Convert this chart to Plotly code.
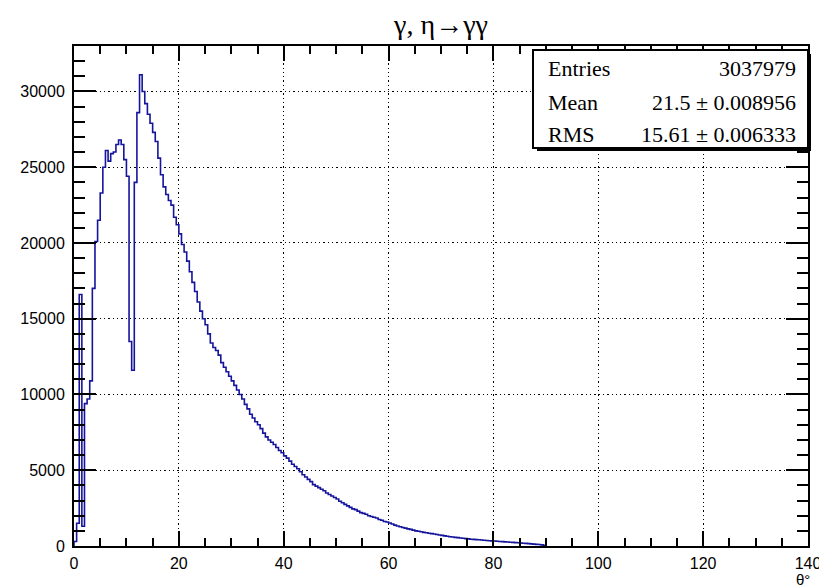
import plotly.graph_objects as go

# ---------------- data ----------------
bin_width = 0.5          # degrees
x_start = 0.0
counts = [
    300, 1500, 16600, 1300, 9400, 9700, 10900, 17000, 20100, 21500,
    23300, 25000, 26100, 25400, 25900, 26000, 26500, 26800, 26500, 25500,
    24400, 13500, 11600, 24000, 28600, 31100, 30000, 29200, 28500, 27900,
    27300, 26700, 25600, 24500, 23700, 23200, 22800, 22500, 21700, 21200,
    20600, 19900, 19400, 18800, 18100, 17400, 16800, 16100, 15500, 15000,
    14600, 14000, 13400, 13100, 12900, 12600, 12100, 11800, 11500, 11200,
    10900, 10600, 10300, 10000, 9700, 9350, 9050, 8700, 8450, 8200,
    8000, 7750, 7450, 7200, 7000, 6850, 6700, 6500, 6300, 6150,
    5950, 5800, 5600, 5400, 5250, 5100, 4900, 4700, 4550, 4400,
    4250, 4050, 3950, 3850, 3750, 3650, 3500, 3400, 3300, 3200,
    3100, 2950, 2850, 2750, 2650, 2550, 2450, 2400, 2300, 2200,
    2150, 2100, 2000, 1950, 1900, 1850, 1750, 1700, 1620, 1580,
    1520, 1450, 1380, 1320, 1270, 1220, 1180, 1130, 1100, 1050,
    1000, 970, 940, 900, 870, 840, 820, 790, 760, 730,
    700, 670, 640, 610, 590, 570, 550, 530, 510, 490,
    470, 450, 440, 420, 410, 395, 380, 365, 350, 340,
    330, 310, 300, 290, 270, 260, 250, 240, 220, 210,
    195, 185, 170, 155, 140, 125, 110, 95, 75, 50,
]
x_ticks = [0, 20, 40, 60, 80, 100, 120, 140]
y_ticks = [0, 5000, 10000, 15000, 20000, 25000, 30000]
title_text = "γ, η→γγ"
x_title = "θ°"
stat_labels = ["Entries", "Mean", "RMS"]
stat_values = ["3037979", "21.5 ± 0.008956", "15.61 ± 0.006333"]

# ---------------- build step outline ----------------
edges = [x_start + i * bin_width for i in range(len(counts) + 1)]
xs = [edges[0]] + edges[:-1] + [edges[-1], edges[-1]]
ys = [0] + counts + [counts[-1], 0]

fig = go.Figure()
fig.add_trace(go.Scatter(
    x=xs, y=ys, mode="lines",
    line=dict(shape="hv", color="#14149c", width=1.6),
    hoverinfo="skip", showlegend=False,
))

# the page body has an 8px margin, so the figure is drawn at (8, 8)
OFF = 8
W, H = 827 - OFF, 587 - OFF

axis_font = dict(family="Liberation Sans, Arial, sans-serif", size=16, color="black")
common = dict(
    automargin=False,
    showline=True, linecolor="black", linewidth=2, mirror="allticks",
    ticks="inside", tickcolor="black", tickwidth=2,
    showgrid=True, gridcolor="black", gridwidth=1.3, griddash="1.3px,3px",
    zeroline=False, tickfont=axis_font,
)

fig.update_layout(
    width=W, height=H,
    margin=dict(l=74 - OFF, r=19, t=46 - OFF, b=41, autoexpand=False),
    paper_bgcolor="white", plot_bgcolor="white",
    title=dict(text=title_text, x=0.5, xref="paper", y=1 - (24 - OFF) / H, yref="container",
               xanchor="center", yanchor="middle",
               font=dict(family="Liberation Serif, Times New Roman, serif", size=28, color="black")),
    xaxis=dict(range=[0, 140], tickvals=x_ticks, ticktext=[str(v) for v in x_ticks],
               ticklen=15, ticklabelstandoff=2,
               minor=dict(dtick=5, ticks="inside", ticklen=8, tickcolor="black", tickwidth=2,
                          showgrid=False),
               **common),
    yaxis=dict(range=[0, 33000], tickvals=y_ticks, ticktext=[str(v) for v in y_ticks],
               ticklen=22, ticklabelstandoff=4,
               minor=dict(dtick=1000, ticks="inside", ticklen=11, tickcolor="black", tickwidth=2,
                          showgrid=False),
               **common),
)

# ---------------- pixel helpers (screen pixels -> paper coords) ----------------
px_l, px_t = 74, 46
pw = 827 - 19 - px_l
ph = 546 - px_t


def xp(px):
    return (px - px_l) / pw


def yp(py):
    return (px_t + ph - py) / ph


# x-axis title at bottom right
fig.add_annotation(text=x_title, xref="paper", yref="paper", x=xp(812), y=yp(579),
                   xanchor="right", yanchor="middle", showarrow=False,
                   font=dict(family="Liberation Sans, Arial, sans-serif", size=15, color="black"))

# ---------------- stats box ----------------
fig.add_shape(type="rect", xref="paper", yref="paper",
              x0=xp(537), x1=xp(811), y0=yp(151), y1=yp(54),
              fillcolor="black", line=dict(width=0), layer="above")
fig.add_shape(type="rect", xref="paper", yref="paper",
              x0=xp(533), x1=xp(808), y0=yp(148), y1=yp(50),
              fillcolor="white", line=dict(color="black", width=2), layer="above")

row_y = [68, 102, 134]
stat_font = dict(family="Liberation Serif, Times New Roman, serif", size=22, color="black")
for lab, val, ry in zip(stat_labels, stat_values, row_y):
    fig.add_annotation(text=lab, xref="paper", yref="paper", x=xp(546), y=yp(ry),
                       xanchor="left", yanchor="middle", showarrow=False, font=stat_font)
    fig.add_annotation(text=val, xref="paper", yref="paper", x=xp(798), y=yp(ry),
                       xanchor="right", yanchor="middle", showarrow=False, font=stat_font)

fig.write_html("out.html")
